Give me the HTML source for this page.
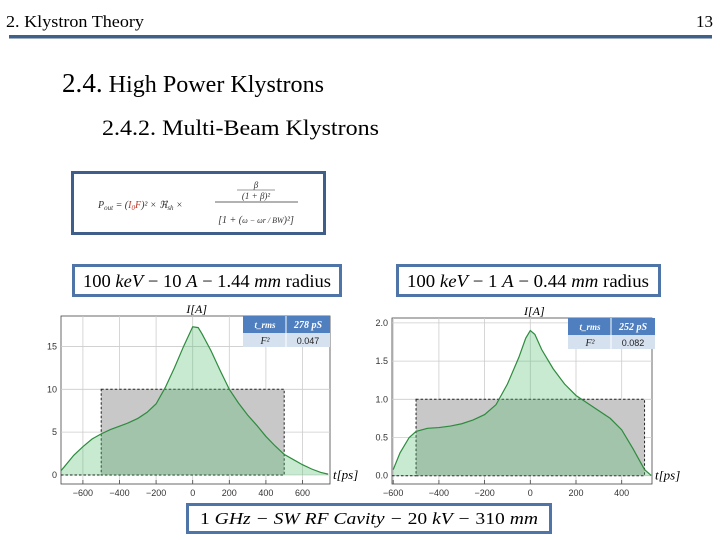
<!DOCTYPE html>
<html><head><meta charset="utf-8"><style>
html,body{margin:0;padding:0;background:#fff;width:720px;height:540px;overflow:hidden}
svg{display:block}
</style></head><body>
<svg id="s" width="720" height="540" xmlns="http://www.w3.org/2000/svg" font-family="Liberation Serif, serif">
<text x="6" y="27" font-size="17" textLength="138" lengthAdjust="spacingAndGlyphs">2. Klystron Theory</text>
<text x="696" y="27" font-size="17" textLength="17" lengthAdjust="spacingAndGlyphs">13</text>
<rect x="9" y="35" width="703" height="3.5" fill="#3f6089"/>
<text x="62" y="92" font-size="24" textLength="262" lengthAdjust="spacingAndGlyphs"><tspan font-size="27">2.4.</tspan> High Power Klystrons</text>
<text x="102" y="135" font-size="22" textLength="277" lengthAdjust="spacingAndGlyphs">2.4.2. Multi-Beam Klystrons</text>

<g>
<rect x="72.5" y="172.5" width="252" height="61" fill="#fff" stroke="#3f5f8a" stroke-width="3"/>
<text x="98" y="208" font-size="10" font-style="italic" fill="#333">P<tspan font-size="7" dy="2">out</tspan><tspan dy="-2"> = (</tspan><tspan fill="#c0392b">I</tspan><tspan fill="#c0392b" font-size="7" dy="2">0</tspan><tspan fill="#c0392b" dy="-2">F</tspan>)² × ℜ<tspan font-size="7" dy="2">sh</tspan><tspan dy="-2"> ×</tspan></text>
<line x1="215" y1="202" x2="298" y2="202" stroke="#333" stroke-width="0.8"/>
<text x="256" y="188" font-size="9" font-style="italic" fill="#333" text-anchor="middle">β</text>
<line x1="237" y1="190" x2="275" y2="190" stroke="#333" stroke-width="0.6"/>
<text x="256" y="199" font-size="9" font-style="italic" fill="#333" text-anchor="middle">(1 + β)²</text>
<text x="256" y="223" font-size="10" font-style="italic" fill="#333" text-anchor="middle">[1 + (<tspan font-size="8">ω − ωr / BW</tspan>)²]</text>
</g>

<g>
<rect x="73.5" y="265.5" width="267" height="30" fill="#fff" stroke="#4f74a8" stroke-width="3"/>
<text x="207" y="287" font-size="18" text-anchor="middle" textLength="248" lengthAdjust="spacingAndGlyphs">100 <tspan font-style="italic">keV</tspan> − 10 <tspan font-style="italic">A</tspan> − 1.44 <tspan font-style="italic">mm</tspan> radius</text>
</g>
<g>
<rect x="397.5" y="265.5" width="262" height="30" fill="#fff" stroke="#4f74a8" stroke-width="3"/>
<text x="528" y="287" font-size="18" text-anchor="middle" textLength="242" lengthAdjust="spacingAndGlyphs">100 <tspan font-style="italic">keV</tspan> − 1 <tspan font-style="italic">A</tspan> − 0.44 <tspan font-style="italic">mm</tspan> radius</text>
</g>
<g>
<rect x="187.5" y="504.5" width="363" height="28" fill="#fff" stroke="#4f74a8" stroke-width="3"/>
<text x="369" y="524" font-size="17" font-style="italic" text-anchor="middle" textLength="338" lengthAdjust="spacingAndGlyphs"><tspan font-style="normal">1</tspan> GHz  − SW RF Cavity  − <tspan font-style="normal">20</tspan> kV − <tspan font-style="normal">310</tspan> mm</text>
</g>
<g id="charts"></g>
</svg>
<script>
// Left chart data
const leftT = [-720,-700,-650,-600,-550,-500,-450,-400,-350,-300,-250,-200,-150,-100,-50,0,30,50,100,150,200,250,300,350,400,450,500,550,600,650,700,740];
const leftI = [0.5,1,2.3,3.3,4.2,4.8,5.3,5.7,6.1,6.6,7.3,8.3,10.2,12.5,15,17.3,17.2,16.5,14.5,12.2,10,8.4,7,5.8,4.5,3.4,2.4,1.8,1.2,0.7,0.3,0.1];
const leftRect = [-500,500,10];
const leftXTicks = [-600,-400,-200,0,200,400,600];
const leftYTicks = [0,5,10,15];
const leftTable = ["278 pS","0.047"];
// Right chart data
const rightT = [-600,-570,-530,-500,-450,-400,-350,-300,-250,-200,-150,-100,-50,-20,0,20,50,100,150,200,250,300,350,400,450,500,530];
const rightI = [0.08,0.3,0.5,0.58,0.62,0.63,0.65,0.68,0.73,0.8,0.93,1.2,1.55,1.8,1.9,1.85,1.65,1.4,1.2,1.05,0.95,0.85,0.75,0.6,0.35,0.08,0];
const rightRect = [-500,500,1];
const rightXTicks = [-600,-400,-200,0,200,400];
const rightYTicks = [0,0.5,1,1.5,2];
const rightTable = ["252 pS","0.082"];

const NS="http://www.w3.org/2000/svg";
const root=document.getElementById('charts');
function mk(tag,attrs,parent){const e=document.createElementNS(NS,tag);for(const k in attrs)e.setAttribute(k,attrs[k]);parent.appendChild(e);return e;}

function chart(cfg,T,I,R,XT,YT,TB,fmt){
  const g=mk('g',{},root);
  
  
  const sx=v=>cfg.x0+v*cfg.kx, sy=v=>cfg.y0-v*cfg.ky;
  const f=mk('rect',{x:cfg.L,y:cfg.T,width:cfg.R-cfg.L,height:cfg.B-cfg.T,fill:'#fff',stroke:'#444','stroke-width':0.8},g);
  
  
  XT.forEach(t=>{
    const l=mk('line',{x1:sx(t),x2:sx(t),y1:cfg.T,y2:cfg.B,stroke:'#ccc','stroke-width':0.8},g);
    
    
    mk('line',{x1:sx(t),x2:sx(t),y1:cfg.B,y2:cfg.B-4,stroke:'#444','stroke-width':0.8},g);
    const tx=mk('text',{x:sx(t),y:cfg.B+12,'font-size':9,'text-anchor':'middle','font-family':'Liberation Sans, sans-serif',fill:'#333'},g);
    tx.textContent=t<0?'−'+(-t):t;
    
    
  });
  YT.forEach(v=>{
    const l=mk('line',{x1:cfg.L,x2:cfg.R,y1:sy(v),y2:sy(v),stroke:'#ccc','stroke-width':0.8},g);
    
    
    const tx=mk('text',{x:cfg.L-4,y:sy(v)+3,'font-size':9,'text-anchor':'end','font-family':'Liberation Sans, sans-serif',fill:'#333'},g);
    tx.textContent=fmt(v);
    
    
  });
  const rc=mk('rect',{x:sx(R[0]),y:sy(R[2]),width:sx(R[1])-sx(R[0]),height:sy(0)-sy(R[2]),fill:'#c8c8c8',stroke:'#222','stroke-width':1,'stroke-dasharray':'2.5,2'},g);
  
  
  let d='M'+sx(T[0])+','+sy(0);
  T.forEach((t,i)=>{d+=' L'+sx(t)+','+sy(I[i]);});
  d+=' L'+sx(T[T.length-1])+','+sy(0)+' Z';
  const a=mk('path',{d:d,fill:'rgba(80,190,110,0.32)',stroke:'none'},g);
  
  
  let d2='';
  T.forEach((t,i)=>{d2+=(i?' L':'M')+sx(t)+','+sy(I[i]);});
  const ln=mk('path',{d:d2,fill:'none',stroke:'#2e8b3e','stroke-width':1.2},g);
  
  
  mk('line',{x1:cfg.L,x2:sx(R[0]),y1:sy(0),y2:sy(0),stroke:'#222','stroke-dasharray':'2.5,2'},g);
  const yl=mk('text',{x:sx(0)+4,y:cfg.T-3,'font-size':12,'font-style':'italic','text-anchor':'middle'},g);
  yl.textContent='I[A]';
  
  
  const xl=mk('text',{x:cfg.R+3,y:sy(0)+4,'font-size':13,'font-style':'italic'},g);
  xl.textContent='t[ps]';
  
  
  // table
  const tx0=cfg.tx,ty0=cfg.ty;
  const tb=mk('g',{},g);
  
  
  mk('rect',{x:tx0,y:ty0,width:87,height:17,fill:'#4f7fbf'},tb);
  mk('rect',{x:tx0,y:ty0+17,width:87,height:14,fill:'#d6e1f0'},tb);
  mk('line',{x1:tx0+43,x2:tx0+43,y1:ty0,y2:ty0+31,stroke:'#fff','stroke-width':1},tb);
  const h1=mk('text',{x:tx0+22,y:ty0+12,'font-size':9,'font-style':'italic','font-weight':'bold',fill:'#fff','text-anchor':'middle'},tb);h1.textContent='t_rms';
  const h2=mk('text',{x:tx0+65,y:ty0+12,'font-size':10,'font-style':'italic','font-weight':'bold',fill:'#fff','text-anchor':'middle'},tb);h2.textContent=TB[0];
  const c1=mk('text',{x:tx0+22,y:ty0+28,'font-size':10,'font-style':'italic',fill:'#222','text-anchor':'middle'},tb);c1.textContent='F²';
  const c2=mk('text',{x:tx0+65,y:ty0+28,'font-size':9,fill:'#222','text-anchor':'middle','font-family':'Liberation Sans, sans-serif'},tb);c2.textContent=TB[1];
}
chart({name:'left-current-chart',x0:192.7,kx:0.183,y0:475,ky:8.57,L:61,R:330,T:316,B:484,tx:243,ty:316},leftT,leftI,leftRect,leftXTicks,leftYTicks,leftTable,v=>String(v));
chart({name:'right-current-chart',x0:530.3,kx:0.2285,y0:475.7,ky:76.4,L:392,R:652,T:318,B:484,tx:568,ty:318},rightT,rightI,rightRect,rightXTicks,rightYTicks,rightTable,v=>v.toFixed(1));
</script>
</body></html>
